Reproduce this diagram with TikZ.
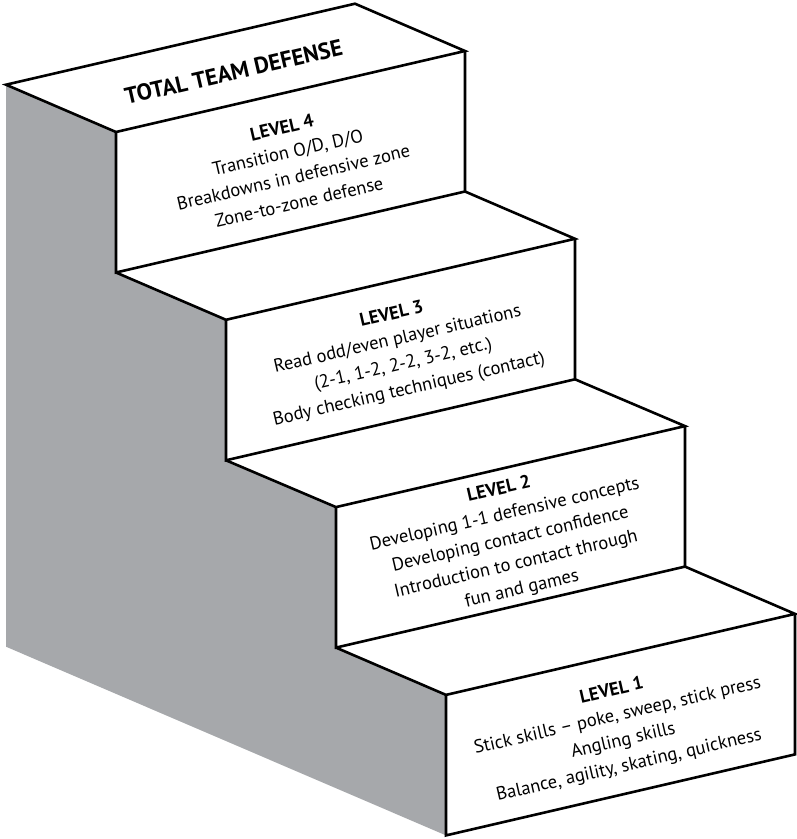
\documentclass[tikz,border=0pt]{standalone}
\usepackage{fontspec}
\setmainfont{PT Sans}
\usetikzlibrary{calc}
\definecolor{sidegray}{RGB}{166,168,171}
\tikzstyle{edgeline} = [line width=2.6pt,line join=miter]
\tikzstyle{facetext} = [align=center,inner sep=0,rotate=13,font=\fontsize{18.5}{25.5}\selectfont]
\tikzstyle{titletext} = [inner sep=0,rotate=13,font=\bfseries\fontsize{23}{26}\selectfont]

\begin{document}
\begin{tikzpicture}[x=1pt,y=-1pt]
    \useasboundingbox (0,0) rectangle (797,839);
    % corners of the steps
    \coordinate (B) at (6,84.7);
    \coordinate (F) at (355,3.7);
    \coordinate (G) at (6,646.7);
    \coordinate (A4) at (116,132);   \coordinate (C4) at (465,51);
    \coordinate (D4) at (116,272.5); \coordinate (E4) at (465,191.5);
    \coordinate (A3) at (226,319.8); \coordinate (C3) at (575,238.8);
    \coordinate (D3) at (226,460.3); \coordinate (E3) at (575,379.3);
    \coordinate (A2) at (336,507.1); \coordinate (C2) at (685,426.1);
    \coordinate (D2) at (336,647.6); \coordinate (E2) at (685,566.6);
    \coordinate (A1) at (446,694.9); \coordinate (C1) at (795,613.9);
    \coordinate (D1) at (446,835.4); \coordinate (E1) at (795,754.4);
    % side face
    \fill [sidegray] (B) -- (A4) -- (D4) -- (A3) -- (D3) -- (A2) -- (D2) -- (A1) -- (D1) -- (G) -- cycle;
    % top
    \draw [edgeline] (B) -- (F) -- (C4) -- (A4) -- cycle;
    % risers and treads
    \draw [edgeline] (C4) -- (E4) -- (D4) -- (A4);
    \draw [edgeline] (D4) -- (A3) -- (C3) -- (E4);
    \draw [edgeline] (C3) -- (E3) -- (D3) -- (A3);
    \draw [edgeline] (D3) -- (A2) -- (C2) -- (E3);
    \draw [edgeline] (C2) -- (E2) -- (D2) -- (A2);
    \draw [edgeline] (D2) -- (A1) -- (C1) -- (E2);
    \draw [edgeline] (C1) -- (E1) -- (D1) -- (A1);
    % labels
    \node [titletext] (title) at ($(B)!0.5!(C4)+(-2,4)$) {TOTAL TEAM DEFENSE};
    \node [facetext] (lvl4) at ($(A4)!0.5!(E4)+(0,3)$) {\textbf{LEVEL 4}\\Transition O/D, D/O\\Breakdowns in defensive zone\\Zone-to-zone defense};
    \node [facetext] (lvl3) at ($(A3)!0.5!(E3)+(0,3)$) {\textbf{LEVEL 3}\\Read odd/even player situations\\(2-1, 1-2, 2-2, 3-2, etc.)\\Body checking techniques (contact)};
    \node [facetext] (lvl2) at ($(A2)!0.5!(E2)+(0,3)$) {\textbf{LEVEL 2}\\Developing 1-1 defensive concepts\\Developing contact confidence\\Introduction to contact through\\fun and games};
    \node [facetext] (lvl1) at ($(A1)!0.5!(E1)+(0,4)$) {\textbf{LEVEL 1}\\Stick skills -- poke, sweep, stick press\\Angling skills\\Balance, agility, skating, quickness};
\end{tikzpicture}
\end{document}
